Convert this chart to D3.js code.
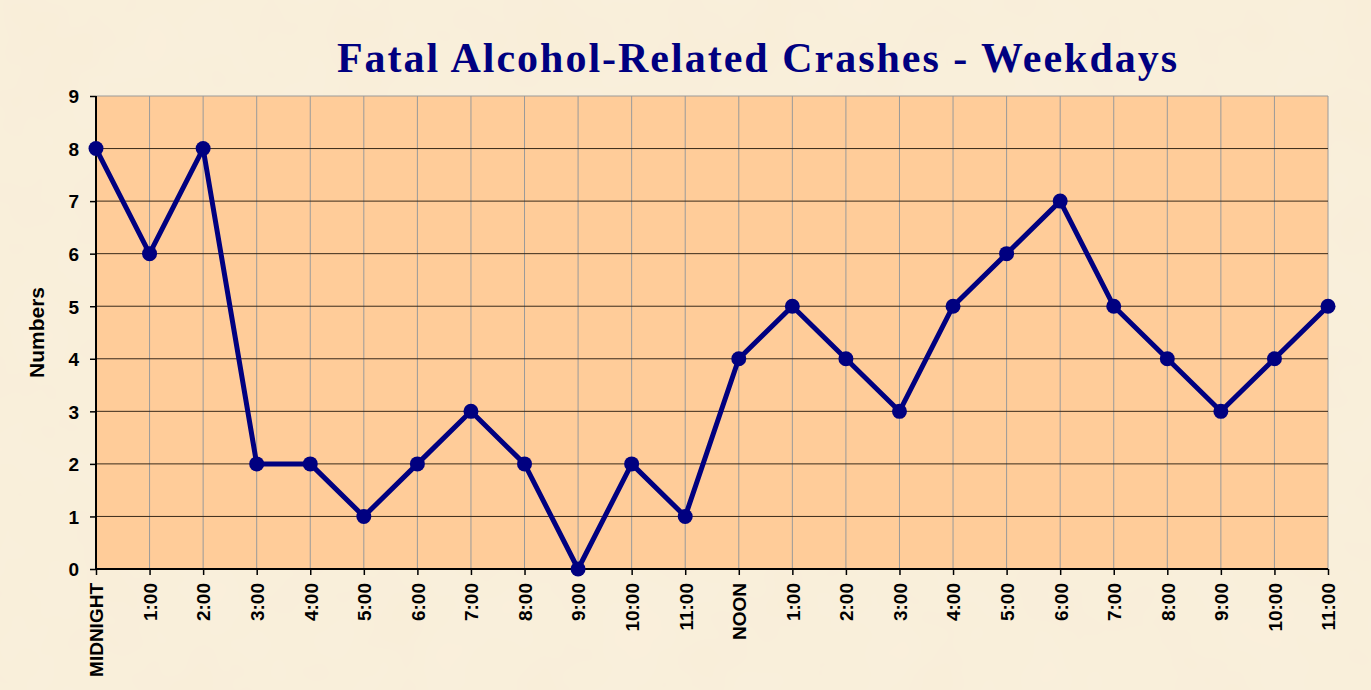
<!DOCTYPE html>
<html>
<head>
<meta charset="utf-8">
<script src="https://cdn.jsdelivr.net/npm/d3@7"></script>
<style>
  body { margin: 0; background: #f7ead2; }
  svg { display: block; }
</style>
</head>
<body>
<svg id="chart"></svg>
<script>
// data
var hours = ["MIDNIGHT", "1:00", "2:00", "3:00", "4:00", "5:00", "6:00", "7:00", "8:00", "9:00", "10:00", "11:00",
             "NOON", "1:00", "2:00", "3:00", "4:00", "5:00", "6:00", "7:00", "8:00", "9:00", "10:00", "11:00"];
var crashes = [8, 6, 8, 2, 2, 1, 2, 3, 2, 0, 2, 1, 4, 5, 4, 3, 5, 6, 7, 5, 4, 3, 4, 5];
var yTicks = [0, 1, 2, 3, 4, 5, 6, 7, 8, 9];

var W = 1371, H = 690;
var m = { left: 96, right: 43, top: 96, bottom: 121 };

var svg = d3.select("#chart").attr("width", W).attr("height", H);

// parchment background
var defs = svg.append("defs");
var f = defs.append("filter").attr("id", "paper").attr("x", 0).attr("y", 0).attr("width", "100%").attr("height", "100%");
f.append("feTurbulence").attr("type", "fractalNoise").attr("baseFrequency", 0.012).attr("numOctaves", 3).attr("seed", 4);
f.append("feColorMatrix").attr("type", "matrix")
  .attr("values", "0 0 0 0 0.96  0 0 0 0 0.89  0 0 0 0 0.76  0 0 0 0.4 0");
f.append("feComposite").attr("in2", "SourceGraphic").attr("operator", "over");
svg.append("rect").attr("width", W).attr("height", H).attr("fill", "#f9eed8");
svg.append("rect").attr("width", W).attr("height", H).attr("fill", "#f9eed8").attr("filter", "url(#paper)");

var x = d3.scaleLinear().domain([0, hours.length - 1]).range([m.left, W - m.right]);
var y = d3.scaleLinear().domain([0, 9]).range([H - m.bottom, m.top]);

// plot area
svg.append("rect")
  .attr("x", x(0)).attr("y", y(9))
  .attr("width", x(hours.length - 1) - x(0)).attr("height", y(0) - y(9))
  .attr("fill", "#ffcc99");

// vertical grid (gray)
svg.append("g").selectAll("line").data(d3.range(1, hours.length)).join("line")
  .attr("x1", d => x(d)).attr("x2", d => x(d))
  .attr("y1", y(9)).attr("y2", y(0))
  .attr("stroke", "#9a9a9a").attr("stroke-width", 1);

// horizontal grid
svg.append("g").selectAll("line").data(yTicks.slice(1)).join("line")
  .attr("x1", x(0)).attr("x2", x(hours.length - 1))
  .attr("y1", d => y(d)).attr("y2", d => y(d))
  .attr("stroke", d => d === 9 ? "#9a9a9a" : "#3a2a1a").attr("stroke-width", 1);

// axes
var yAxis = svg.append("g").attr("transform", "translate(" + x(0) + ",0)")
  .call(d3.axisLeft(y).tickValues(yTicks).tickSize(6).tickFormat(d3.format("d")));
var xAxis = svg.append("g").attr("transform", "translate(0," + y(0) + ")")
  .call(d3.axisBottom(x).tickValues(d3.range(hours.length)).tickSize(6).tickFormat(i => hours[i]));

[yAxis, xAxis].forEach(function (g) {
  g.select(".domain").attr("stroke", "#000").attr("stroke-width", 2);
  g.selectAll(".tick line").attr("stroke", "#000").attr("stroke-width", 1.5);
  g.selectAll("text").attr("fill", "#000")
    .style("font-family", "Liberation Sans, Arial, sans-serif")
    .style("font-weight", "bold").style("font-size", "19px");
});
yAxis.select(".domain").attr("d", "M0," + y(0) + "V" + y(9));
xAxis.select(".domain").attr("d", "M" + x(0) + ",0H" + x(hours.length - 1));
yAxis.selectAll("text").attr("dy", "0.36em").attr("x", -17);
xAxis.selectAll("text")
  .attr("transform", "rotate(-90)")
  .attr("text-anchor", "end")
  .attr("x", -14).attr("y", 0).attr("dy", "0.36em");

// y title
svg.append("text")
  .attr("transform", "translate(44," + ((y(0) + y(9)) / 2) + ") rotate(-90)")
  .attr("text-anchor", "middle")
  .style("font-family", "Liberation Sans, Arial, sans-serif")
  .style("font-weight", "bold").style("font-size", "21px")
  .text("Numbers");

// line
svg.append("path").datum(crashes)
  .attr("fill", "none").attr("stroke", "#000080").attr("stroke-width", 5)
  .attr("stroke-linejoin", "round")
  .attr("d", d3.line().x((d, i) => x(i)).y(d => y(d)));

svg.append("g").selectAll("circle").data(crashes).join("circle")
  .attr("cx", (d, i) => x(i)).attr("cy", d => y(d)).attr("r", 7.5)
  .attr("fill", "#000080");

// title
svg.append("text")
  .attr("x", 758).attr("y", 72)
  .attr("text-anchor", "middle")
  .attr("fill", "#000080")
  .style("font-family", "Liberation Serif, Times New Roman, serif")
  .style("font-weight", "bold").style("font-size", "42px")
  .style("letter-spacing", "2px")
  .text("Fatal Alcohol-Related Crashes - Weekdays");
</script>
</body>
</html>
